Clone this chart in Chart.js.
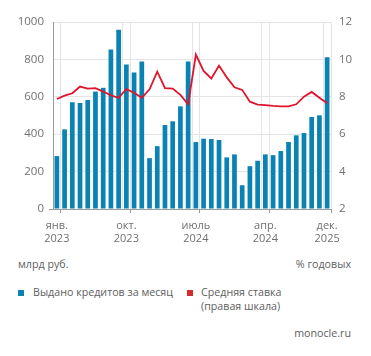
<!DOCTYPE html>
<html>
<head>
<meta charset="utf-8">
<script src="https://cdn.jsdelivr.net/npm/chart.js@4"></script>
<style>
  html, body { margin: 0; padding: 0; background: #fff; }
  body { width: 371px; height: 356px; position: relative; overflow: hidden; font-family: "Open Sans", "Noto Sans", sans-serif; color: #5e5e5e; }
  #wrap { position: absolute; left: 0; top: 0; width: 371px; height: 250px; }
  .t { position: absolute; font-size: 10.7px; line-height: 13.5px; white-space: nowrap; color: #5e5e5e; }
  .sq { position: absolute; width: 6px; height: 6px; }
</style>
</head>
<body>
<div id="wrap"><canvas id="c" width="371" height="250"></canvas></div>
<div class="t" style="left:18px; top:258px;">млрд руб.</div>
<div class="t" style="right:20px; top:258px; text-align:right;">% годовых</div>
<div class="sq" style="left:18px; top:290px; background:#0a82b4;"></div>
<div class="t" style="left:33px; top:286px;">Выдано кредитов за месяц</div>
<div class="sq" style="left:187px; top:290px; background:#d62b2b;"></div>
<div class="t" style="left:201px; top:286px;">Средняя ставка<br>(правая шкала)</div>
<div class="t" style="right:20px; top:327px; text-align:right;">monocle.ru</div>
<script>
// Categories: months Jan 2023 – Dec 2025
const months = [
  '2023-01','2023-02','2023-03','2023-04','2023-05','2023-06','2023-07','2023-08','2023-09','2023-10','2023-11','2023-12',
  '2024-01','2024-02','2024-03','2024-04','2024-05','2024-06','2024-07','2024-08','2024-09','2024-10','2024-11','2024-12',
  '2025-01','2025-02','2025-03','2025-04','2025-05','2025-06','2025-07','2025-08','2025-09','2025-10','2025-11','2025-12'
];
// Loans issued per month, bn RUB (left axis)
const loansIssued = [
  283, 426, 571, 567, 583, 628, 648, 853, 959, 773, 730, 789,
  272, 336, 449, 469, 549, 789, 358, 376, 374, 369, 276, 292,
  127, 229, 258, 292, 288, 310, 358, 394, 406, 492, 501, 812
];
// Average rate, % per annum (right axis)
const avgRate = [
  7.88, 8.06, 8.19, 8.55, 8.44, 8.46, 8.28, 8.08, 7.95, 8.41, 8.22, 7.95,
  8.40, 9.34, 8.46, 8.44, 8.10, 7.60, 10.26, 9.38, 8.98, 9.67, 9.04, 8.51,
  8.37, 7.74, 7.58, 7.55, 7.51, 7.49, 7.49, 7.60, 8.01, 8.26, 7.95, 7.65
];
// X tick labels (as printed on the original)
const tickMonths = ['2023-01', '2023-10', '2024-07', '2025-04', '2025-12'];
const tickLabels = [['янв.', '2023'], ['окт.', '2023'], ['июль', '2024'], ['апр.', '2024'], ['дек.', '2025']];
// Axis ticks
const leftTicks = [0, 200, 400, 600, 800, 1000];
const rightTicks = [2, 4, 6, 8, 10, 12];

const seriesNames = ['Выдано кредитов за месяц', 'Средняя ставка (правая шкала)'];

const BLUE = '#0a82b4';
const RED = '#e0142c';
const GRID = '#e4e4e4';
const AXIS = '#9a9a9a';
const TICK = '#707070';
const FONT = '"Open Sans", "Noto Sans", sans-serif';

const labeledIdx = tickMonths.map(m => months.indexOf(m));

new Chart(document.getElementById('c'), {
  data: {
    labels: months,
    datasets: [
      {
        type: 'line', label: seriesNames[1], data: avgRate, yAxisID: 'y1',
        borderColor: RED, borderWidth: 1.8, pointRadius: 0, tension: 0, order: 0
      },
      {
        type: 'bar', label: seriesNames[0], data: loansIssued, yAxisID: 'y',
        backgroundColor: BLUE, barPercentage: 0.61, categoryPercentage: 1, order: 1
      }
    ]
  },
  options: {
    responsive: false,
    animation: false,
    devicePixelRatio: 1,
    layout: { padding: { top: 22, left: 0, right: 0, bottom: 0 } },
    plugins: { legend: { display: false }, tooltip: { enabled: false } },
    scales: {
      x: {
        type: 'category',
        offset: true,
        afterFit: s => { s.height = 41; },
        border: { display: true, color: AXIS, width: 1 },
        grid: {
          offset: true,
          drawOnChartArea: true,
          drawTicks: true,
          tickLength: 4,
          color: ctx => {
            const i = ctx.index;
            if (i === undefined) return GRID;
            return (labeledIdx.includes(i) || labeledIdx.includes(i - 1)) ? GRID : 'rgba(0,0,0,0)';
          },
          tickColor: ctx => {
            const i = ctx.index;
            if (i === undefined) return AXIS;
            return labeledIdx.includes(i - 1) ? AXIS : 'rgba(0,0,0,0)';
          }
        },
        ticks: {
          autoSkip: false, maxRotation: 0, minRotation: 0, padding: 6,
          color: TICK, font: { family: FONT, size: 11, lineHeight: 1.2 },
          callback: (v, i) => {
            const k = labeledIdx.indexOf(i);
            return k >= 0 ? tickLabels[k] : '';
          }
        }
      },
      y: {
        position: 'left', min: 0, max: 1000,
        afterFit: s => { s.width = 53; },
        afterBuildTicks: s => { s.ticks = leftTicks.map(v => ({ value: v })); },
        border: { display: true, color: AXIS, width: 1 },
        grid: {
          color: GRID, drawTicks: true, tickLength: 4,
          tickColor: ctx => (ctx.tick && ctx.tick.value === 0) ? AXIS : 'rgba(0,0,0,0)'
        },
        ticks: { padding: 5, color: TICK, font: { family: FONT, size: 11.5 }, callback: v => String(v) }
      },
      y1: {
        position: 'right', min: 2, max: 12,
        afterFit: s => { s.width = 40; },
        afterBuildTicks: s => { s.ticks = rightTicks.map(v => ({ value: v })); },
        border: { display: false },
        grid: { drawOnChartArea: false, drawTicks: false },
        ticks: { padding: 8, color: TICK, font: { family: FONT, size: 11.5 }, callback: v => String(v) }
      }
    }
  }
});
</script>
</body>
</html>
